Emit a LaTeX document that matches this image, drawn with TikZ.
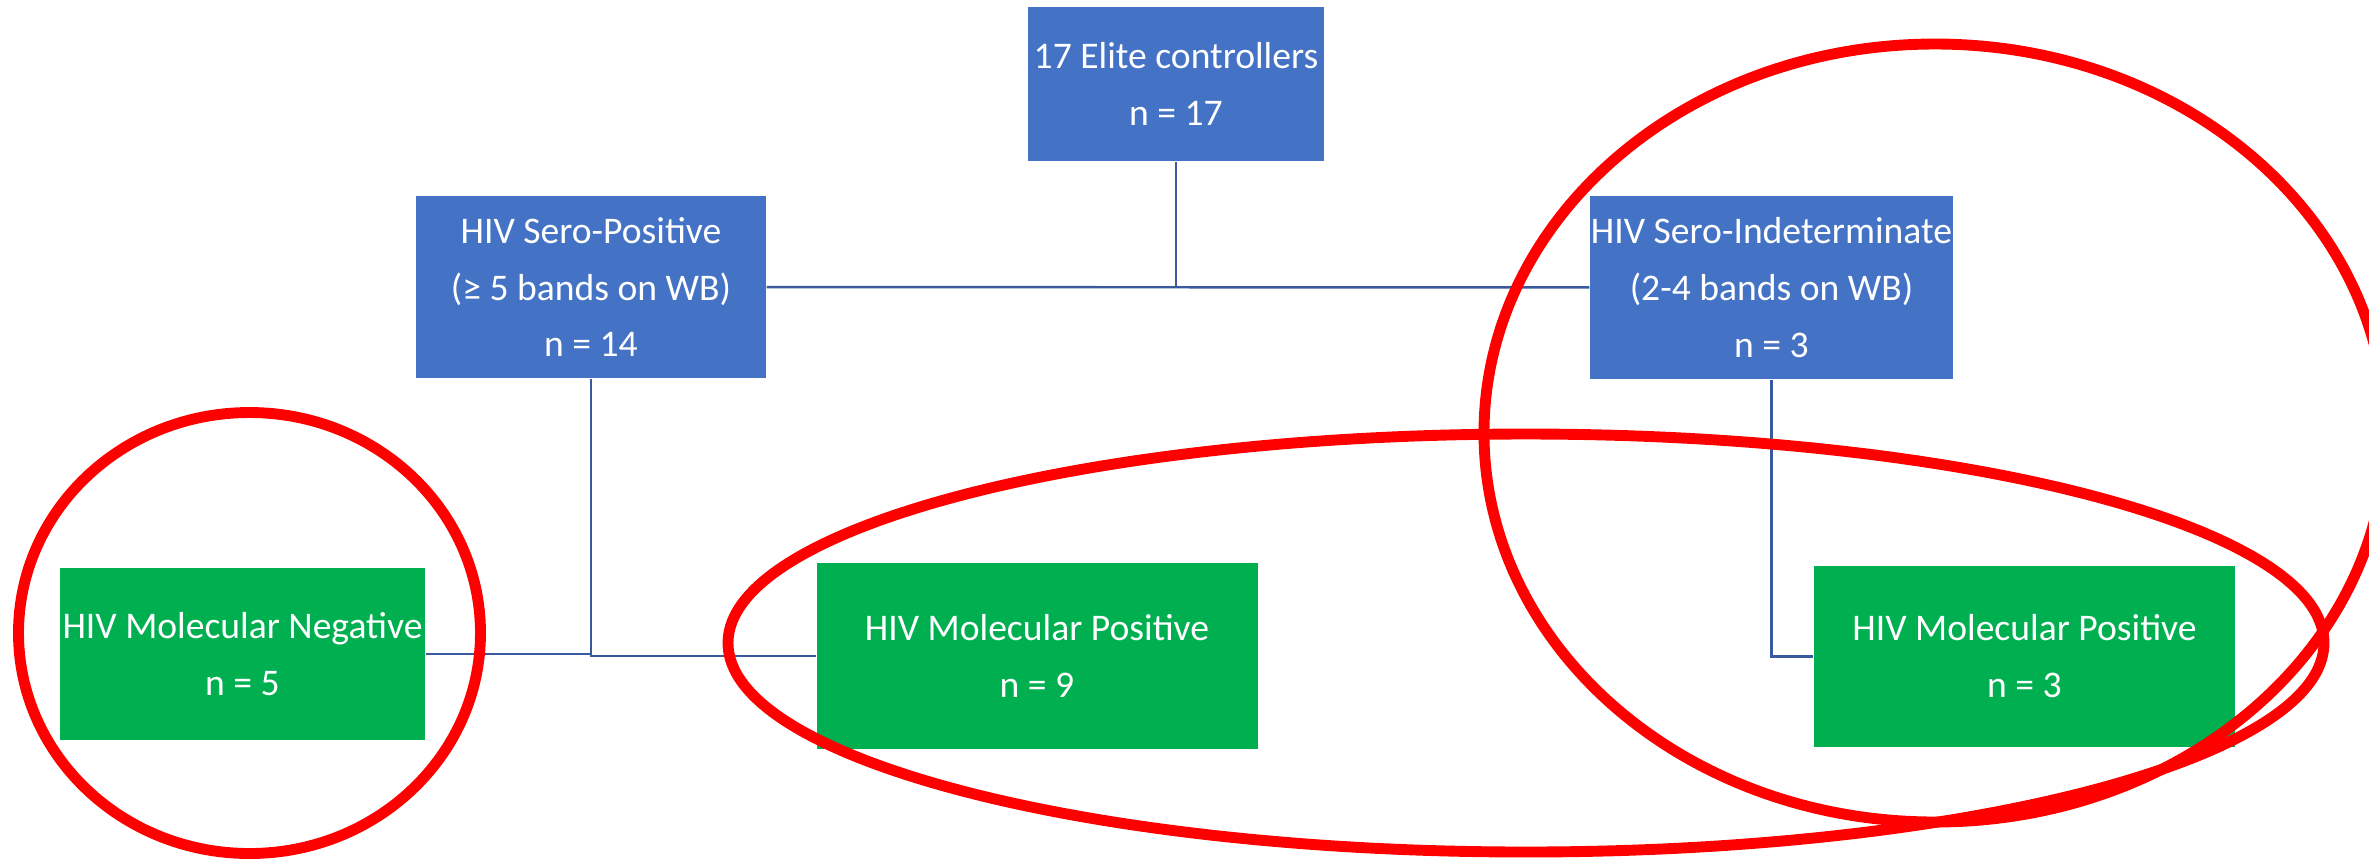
\documentclass[tikz,border=0pt]{standalone}
\usepackage{fontspec}
\setmainfont{Carlito}
\usetikzlibrary{positioning}
\definecolor{seroblue}{RGB}{68,114,196}
\definecolor{molgreen}{RGB}{0,176,80}
\definecolor{linkblue}{RGB}{59,89,160}

\begin{document}
\begin{tikzpicture}[node distance=2cm, on grid, font=\fontsize{10.7}{16.2}\selectfont,
	sero/.style={fill=seroblue, text=white, align=center, inner sep=0pt},
	mol/.style={fill=molgreen, text=white, align=center, inner sep=0pt},
	link/.style={draw=linkblue, line width=0.7pt},
	ring/.style={draw=red, line width=3.1pt}]
	\useasboundingbox (0,0) rectangle (23.69,-8.59);
	\clip (0,0) rectangle (23.69,-8.59);

	\node[sero, minimum width=2.96cm, minimum height=1.54cm] (0) at (11.76,-0.84) {17 Elite controllers\\n = 17};
	\node[sero, minimum width=3.50cm, minimum height=1.82cm] (1) [below left=2.03cm and 5.85cm of 0] {HIV Sero-Positive\\(≥ 5 bands on WB)\\n = 14};
	\node[sero, minimum width=3.63cm, minimum height=1.83cm] (2) [below right=2.035cm and 5.955cm of 0] {HIV Sero-Indeterminate\\(2-4 bands on WB)\\n = 3};
	\node[mol, minimum width=3.65cm, minimum height=1.72cm] (3) [below left=3.67cm and 3.485cm of 1] {HIV Molecular Negative\\n = 5};
	\node[mol, minimum width=4.41cm, minimum height=1.86cm] (4) [below right=3.69cm and 4.46cm of 1] {HIV Molecular Positive\\n = 9};
	\node[mol, minimum width=4.21cm, minimum height=1.81cm] (5) [below right=3.69cm and 2.53cm of 2] {HIV Molecular Positive\\n = 3};

	\draw[link] (1) -- (2);
	\draw[link] (0) -- (0 |- 1);
	\draw[link] (3) -- (1 |- 3);
	\draw[link] (1) |- (4);
	\draw[link] (2) |- (5);

	% red marks
	\draw[ring] (2.495,-6.33) ellipse [x radius=2.31cm, y radius=2.205cm];
	\draw[ring] (15.26,-6.43) ellipse [x radius=7.98cm, y radius=2.09cm];
	\draw[ring] (19.35,-4.33) ellipse [x radius=4.51cm, y radius=3.89cm];
\end{tikzpicture}
\end{document}
